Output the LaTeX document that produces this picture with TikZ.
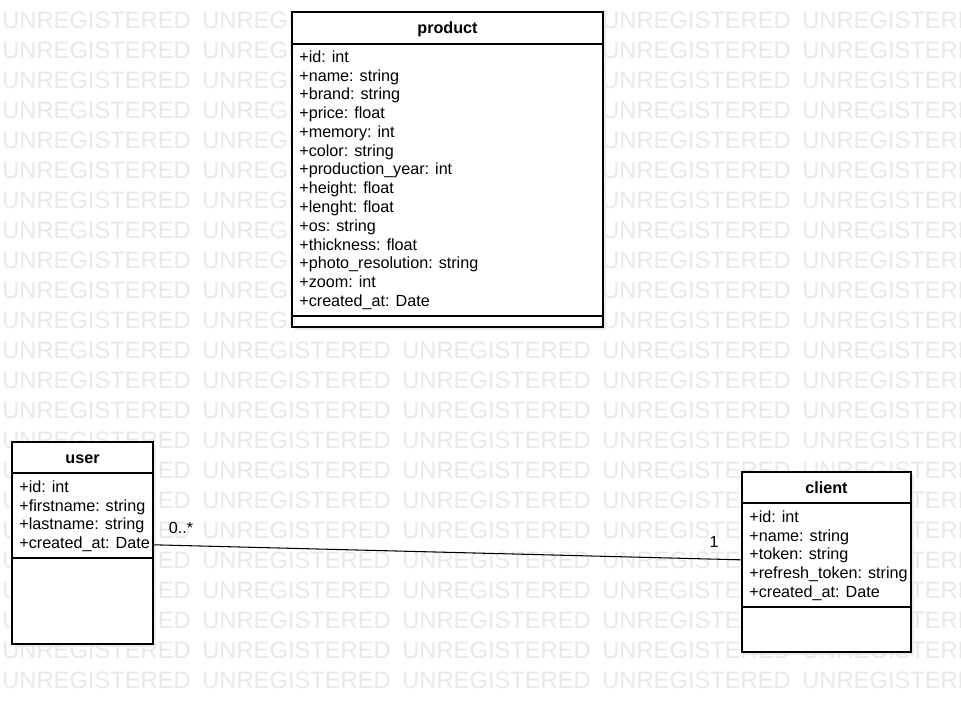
\documentclass[tikz,border=0pt]{standalone}
\usepackage{fontspec}
\setmainfont{Liberation Sans}
\usetikzlibrary{positioning,shadows}
\tikzset{
  umlclass/.style={draw, fill=white, line width=0.6pt, inner sep=0pt,
    drop shadow={shadow xshift=0.06cm, shadow yshift=-0.06cm, fill=black!8, opacity=1}},
  classname/.style={inner sep=0pt, text height=1.6ex, text depth=0.45ex, font=\fontsize{9.2}{11}\selectfont\bfseries},
  attr/.style={anchor=west, inner sep=0pt, text height=1.6ex, text depth=0.45ex, font=\fontsize{9.2}{11}\selectfont},
  mult/.style={inner sep=0pt, text height=1.6ex, text depth=0.45ex, font=\fontsize{9.2}{11}\selectfont},
  watermark/.style={anchor=west, inner sep=0pt, text=black!9, font=\fontsize{13.5}{15}\selectfont}
}
\begin{document}
\begin{tikzpicture}[x=0.02cm, y=-0.02cm]
\useasboundingbox (0,0) rectangle (961,702);
% background stamp
\foreach \row in {0,...,22}
  \foreach \col in {0,...,4}
    \node[watermark] at (2+\col*200, 20+\row*30) {UNREGISTERED};
% product
\node[umlclass, minimum width=311*0.02cm, minimum height=315*0.02cm] (product) at (447.5,169.5) {};
\node[classname] (productname) at (447.5,28) {product};
\draw[line width=0.6pt] (product.west |- 0,44) -- (product.east |- 0,44);
\foreach \a [count=\i from 0] in {+id: int, +name: string, +brand: string, +price: float,
  +memory: int, +color: string, +production\_year: int, +height: float, +lenght: float,
  +os: string, +thickness: float, +photo\_resolution: string, +zoom: int, +created\_at: Date}
  \node[attr] at (299, 57+\i*18.77) {\a};
\draw[line width=0.6pt] (product.west |- 0,316) -- (product.east |- 0,316);
% user
\node[umlclass, minimum width=141*0.02cm, minimum height=202*0.02cm] (user) at (82.5,543) {};
\node[classname] (username) at (82.5,458) {user};
\draw[line width=0.6pt] (user.west |- 0,473) -- (user.east |- 0,473);
\foreach \a [count=\i from 0] in {+id: int, +firstname: string, +lastname: string, +created\_at: Date}
  \node[attr] at (19, 487+\i*18.7) {\a};
\draw[line width=0.6pt] (user.west |- 0,558) -- (user.east |- 0,558);
% client
\node[umlclass, minimum width=169*0.02cm, minimum height=180*0.02cm] (client) at (826.5,562) {};
\node[classname] (clientname) at (826.5,488) {client};
\draw[line width=0.6pt] (client.west |- 0,503) -- (client.east |- 0,503);
\foreach \a [count=\i from 0] in {+id: int, +name: string, +token: string,
  +refresh\_token: string, +created\_at: Date}
  \node[attr] at (749, 517+\i*18.75) {\a};
\draw[line width=0.6pt] (client.west |- 0,607) -- (client.east |- 0,607);
% association
\draw[line width=0.6pt] (user) -- (client);
\node[mult] (usermult) at (181,528) {0..*};
\node[mult] (clientmult) at (714,542) {1};
\end{tikzpicture}
\end{document}
